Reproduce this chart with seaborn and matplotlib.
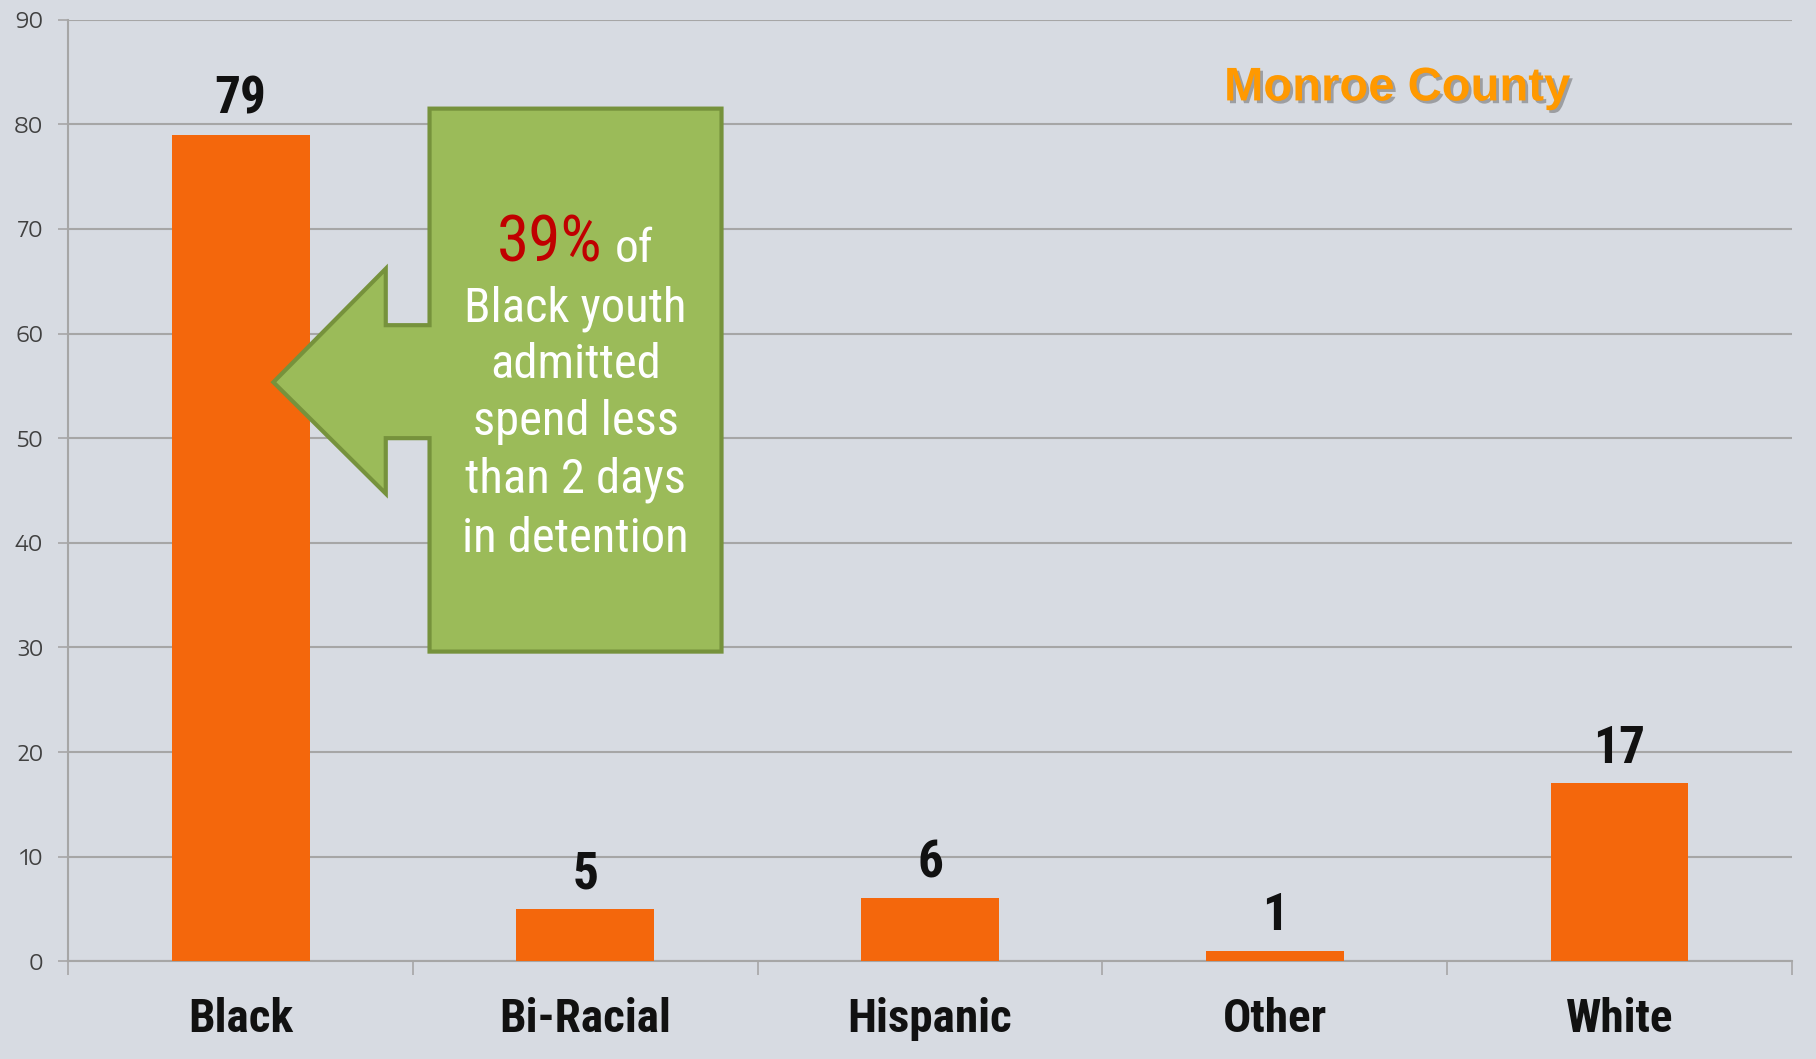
import matplotlib
matplotlib.use("Agg")
import matplotlib.pyplot as plt
import matplotlib.patheffects as pe
from matplotlib.patches import Polygon
import seaborn as sns
import pandas as pd
import numpy as np

categories = ["Black", "Bi-Racial", "Hispanic", "Other", "White"]
values = [79, 5, 6, 1, 17]
yticks = [0, 10, 20, 30, 40, 50, 60, 70, 80, 90]
title_text = "Monroe County"
callout_pct = "39%"
callout_of = "of"
callout_lines = ["Black youth", "admitted", "spend less", "than 2 days", "in detention"]

BG = "#d7dbe2"
BAR = "#f4670c"
GRID = "#a6a6a6"
GREEN = "#9bbb59"
GREEN_EDGE = "#76923c"
COND = ["Roboto Condensed", "DejaVu Sans"]
WIDE = ["Encode Sans Expanded", "Liberation Sans", "DejaVu Sans"]
ARIAL = ["Liberation Sans", "DejaVu Sans"]

df = pd.DataFrame({"category": categories, "value": values})

fig = plt.figure(figsize=(18.16, 10.59), dpi=100, facecolor=BG)
ax = fig.add_axes([0.0376, 0.0923, 0.9491, 0.8891])
ax.set_facecolor(BG)

sns.barplot(data=df, x="category", y="value", color=BAR, saturation=1,
            width=0.4, ax=ax, zorder=3)

ax.set_xlim(-0.5, len(categories) - 0.5)
ax.set_ylim(0, 90)
ax.set_yticks(yticks)
ax.set_yticklabels([str(t) for t in yticks], fontsize=15, color="#404040", family=WIDE)
ax.yaxis.grid(True, color=GRID, lw=1.5, zorder=0)
ax.set_axisbelow(True)
ax.tick_params(axis="y", length=7, width=1.2, color=GRID, pad=11)

ax.set_xlabel("")
ax.set_ylabel("")
ax.set_xticks(range(len(categories)))
ax.set_xticklabels(categories, fontsize=34, fontweight="bold", family=COND, color="#111111")
ax.tick_params(axis="x", which="major", length=0, pad=26)
ax.set_xticks(np.arange(-0.5, len(categories)), minor=True)
ax.tick_params(axis="x", which="minor", length=10, width=1.2, color=GRID)

for s in ["top", "right"]:
    ax.spines[s].set_visible(False)
for s in ["left", "bottom"]:
    ax.spines[s].set_color(GRID)
    ax.spines[s].set_linewidth(1.5)

for i, v in enumerate(values):
    ax.annotate(str(v), (i, v), xytext=(0, 15), textcoords="offset points",
                ha="center", va="baseline", fontsize=37, fontweight="bold",
                family=COND, color="#111111", zorder=5)

# title
ax.text(0.771, 0.927, title_text, transform=ax.transAxes, ha="center", va="center",
        fontsize=34, fontweight="bold", color="#ff9900", family=ARIAL,
        path_effects=[pe.withSimplePatchShadow(offset=(2, -2), shadow_rgbFace="#555555", alpha=0.45)],
        zorder=6)

# callout shape (arrow + box)
box_l, box_r, box_t, box_b = 0.548, 1.395, 81.5, 29.6
head_x, tip_x, tip_y = 0.421, 0.095, 55.35
head_t, head_b, shaft_t, shaft_b = 66.2, 44.7, 60.8, 50.0
pts = [(box_l, box_t), (box_r, box_t), (box_r, box_b), (box_l, box_b),
       (box_l, shaft_b), (head_x, shaft_b), (head_x, head_b), (tip_x, tip_y),
       (head_x, head_t), (head_x, shaft_t), (box_l, shaft_t)]
ax.add_patch(Polygon(pts, closed=True, facecolor=GREEN, edgecolor=GREEN_EDGE,
                     lw=3, zorder=4, joinstyle="miter"))

cx = 0.972
ax.text(1.05, 66.88, callout_pct, ha="right", va="baseline", fontsize=47,
        color="#c00000", family=COND, zorder=6)
ax.text(1.086, 66.88, callout_of, ha="left", va="baseline", fontsize=34,
        color="white", family=COND, zorder=6)
baselines = [61.14, 55.76, 50.31, 44.76, 39.14]
for line, yb in zip(callout_lines, baselines):
    ax.text(cx, yb, line, ha="center", va="baseline", fontsize=35,
            color="white", family=COND, zorder=6)

fig.savefig("out.png", dpi=100, facecolor=BG)
